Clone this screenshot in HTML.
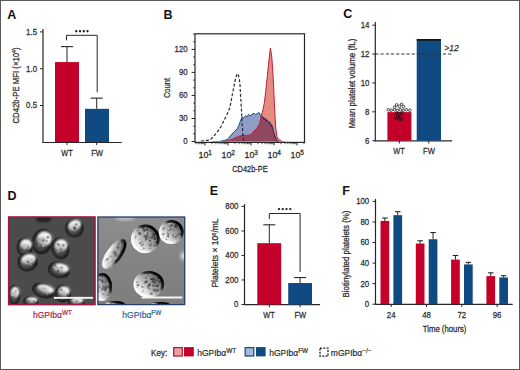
<!DOCTYPE html>
<html><head><meta charset="utf-8"><style>
html,body{margin:0;padding:0;background:#fff;}
body{width:520px;height:370px;overflow:hidden;}
svg{display:block;font-family:"Liberation Sans", sans-serif;}
</style></head><body>
<svg width="520" height="370" viewBox="0 0 520 370">
<rect x="0" y="0" width="520" height="370" fill="#fff"/>
<text x="7.2" y="18.9" font-size="12.5" text-anchor="start" fill="#111" font-weight="bold"  style="">A</text>
<text x="163.4" y="19" font-size="12.5" text-anchor="start" fill="#111" font-weight="bold"  style="">B</text>
<text x="343.2" y="17.5" font-size="12.5" text-anchor="start" fill="#111" font-weight="bold"  style="">C</text>
<text x="7.4" y="199.8" font-size="12.5" text-anchor="start" fill="#111" font-weight="bold"  style="">D</text>
<text x="209.8" y="194.8" font-size="12.5" text-anchor="start" fill="#111" font-weight="bold"  style="">E</text>
<text x="342.2" y="194.8" font-size="12.5" text-anchor="start" fill="#111" font-weight="bold"  style="">F</text>
<line x1="43.00" y1="29.00" x2="43.00" y2="142.80" stroke="#262626" stroke-width="1.2" />
<line x1="42.40" y1="142.50" x2="121.70" y2="142.50" stroke="#262626" stroke-width="1.2" />
<line x1="40.00" y1="31.90" x2="43.00" y2="31.90" stroke="#262626" stroke-width="1" />
<text x="37" y="34.80000000000002" font-size="8.9" text-anchor="end" fill="#2e2e2e" font-weight="normal" stroke="#2e2e2e" stroke-width="0.26" textLength="10.89" lengthAdjust="spacingAndGlyphs"  style="">1.5</text>
<line x1="40.00" y1="68.70" x2="43.00" y2="68.70" stroke="#262626" stroke-width="1" />
<text x="37" y="71.60000000000002" font-size="8.9" text-anchor="end" fill="#2e2e2e" font-weight="normal" stroke="#2e2e2e" stroke-width="0.26" textLength="10.89" lengthAdjust="spacingAndGlyphs"  style="">1.0</text>
<line x1="40.00" y1="105.50" x2="43.00" y2="105.50" stroke="#262626" stroke-width="1" />
<text x="37" y="108.40000000000002" font-size="8.9" text-anchor="end" fill="#2e2e2e" font-weight="normal" stroke="#2e2e2e" stroke-width="0.26" textLength="10.89" lengthAdjust="spacingAndGlyphs"  style="">0.5</text>
<rect x="55.00" y="62.08" width="24.00" height="79.92" fill="#c4002a" />
<rect x="85.00" y="108.81" width="24.00" height="33.19" fill="#0f4a82" />
<line x1="67.00" y1="46.62" x2="67.00" y2="62.08" stroke="#262626" stroke-width="1" />
<line x1="61.00" y1="46.62" x2="73.00" y2="46.62" stroke="#262626" stroke-width="1.1" />
<line x1="96.70" y1="98.14" x2="96.70" y2="108.81" stroke="#262626" stroke-width="1" />
<line x1="90.60" y1="98.14" x2="102.70" y2="98.14" stroke="#262626" stroke-width="1.1" />
<polyline points="66.5,40.4 66.5,35.3 97.2,35.3 97.2,92.3" fill="none" stroke="#262626" stroke-width="1"/>
<circle cx="76.25" cy="31.25" r="1.15" fill="#1a1a1a"/>
<circle cx="80" cy="31.25" r="1.15" fill="#1a1a1a"/>
<circle cx="83.75" cy="31.25" r="1.15" fill="#1a1a1a"/>
<circle cx="87.5" cy="31.25" r="1.15" fill="#1a1a1a"/>
<line x1="67.00" y1="142.50" x2="67.00" y2="145.00" stroke="#262626" stroke-width="1" />
<line x1="96.70" y1="142.50" x2="96.70" y2="145.00" stroke="#262626" stroke-width="1" />
<text x="67" y="156.2" font-size="8.7" text-anchor="middle" fill="#2e2e2e" font-weight="normal" stroke="#2e2e2e" stroke-width="0.26" textLength="11.4" lengthAdjust="spacingAndGlyphs"  style="">WT</text>
<text x="97.1" y="156.2" font-size="8.7" text-anchor="middle" fill="#2e2e2e" font-weight="normal" stroke="#2e2e2e" stroke-width="0.26" textLength="11.8" lengthAdjust="spacingAndGlyphs"  style="">FW</text>
<text transform="translate(19.2,85.5) rotate(-90)" font-size="9.2" text-anchor="middle" fill="#2e2e2e" stroke="#2e2e2e" stroke-width="0.26" textLength="76" lengthAdjust="spacingAndGlyphs">CD42b-PE MFI (×10<tspan dy="-2.8" font-size="6">4</tspan><tspan dy="2.8">)</tspan></text>
<line x1="191.60" y1="141.50" x2="195.00" y2="141.50" stroke="#262626" stroke-width="1" />
<text x="187.6" y="144.4" font-size="8.9" text-anchor="end" fill="#2e2e2e" font-weight="normal" stroke="#2e2e2e" stroke-width="0.26" textLength="4.35" lengthAdjust="spacingAndGlyphs"  style="">0</text>
<line x1="193.00" y1="133.82" x2="195.00" y2="133.82" stroke="#262626" stroke-width="0.8" />
<line x1="193.00" y1="126.15" x2="195.00" y2="126.15" stroke="#262626" stroke-width="0.8" />
<line x1="191.60" y1="118.47" x2="195.00" y2="118.47" stroke="#262626" stroke-width="1" />
<text x="187.6" y="121.375" font-size="8.9" text-anchor="end" fill="#2e2e2e" font-weight="normal" stroke="#2e2e2e" stroke-width="0.26" textLength="8.71" lengthAdjust="spacingAndGlyphs"  style="">30</text>
<line x1="193.00" y1="110.80" x2="195.00" y2="110.80" stroke="#262626" stroke-width="0.8" />
<line x1="193.00" y1="103.12" x2="195.00" y2="103.12" stroke="#262626" stroke-width="0.8" />
<line x1="191.60" y1="95.45" x2="195.00" y2="95.45" stroke="#262626" stroke-width="1" />
<text x="187.6" y="98.35000000000001" font-size="8.9" text-anchor="end" fill="#2e2e2e" font-weight="normal" stroke="#2e2e2e" stroke-width="0.26" textLength="8.71" lengthAdjust="spacingAndGlyphs"  style="">60</text>
<line x1="193.00" y1="87.78" x2="195.00" y2="87.78" stroke="#262626" stroke-width="0.8" />
<line x1="193.00" y1="80.10" x2="195.00" y2="80.10" stroke="#262626" stroke-width="0.8" />
<line x1="191.60" y1="72.42" x2="195.00" y2="72.42" stroke="#262626" stroke-width="1" />
<text x="187.6" y="75.325" font-size="8.9" text-anchor="end" fill="#2e2e2e" font-weight="normal" stroke="#2e2e2e" stroke-width="0.26" textLength="8.71" lengthAdjust="spacingAndGlyphs"  style="">90</text>
<line x1="193.00" y1="64.75" x2="195.00" y2="64.75" stroke="#262626" stroke-width="0.8" />
<line x1="193.00" y1="57.08" x2="195.00" y2="57.08" stroke="#262626" stroke-width="0.8" />
<line x1="191.60" y1="49.40" x2="195.00" y2="49.40" stroke="#262626" stroke-width="1" />
<text x="187.6" y="52.300000000000004" font-size="8.9" text-anchor="end" fill="#2e2e2e" font-weight="normal" stroke="#2e2e2e" stroke-width="0.26" textLength="13.06" lengthAdjust="spacingAndGlyphs"  style="">120</text>
<line x1="193.00" y1="41.73" x2="195.00" y2="41.73" stroke="#262626" stroke-width="0.8" />
<line x1="193.00" y1="34.05" x2="195.00" y2="34.05" stroke="#262626" stroke-width="0.8" />
<line x1="195.85" y1="142.40" x2="195.85" y2="144.20" stroke="#262626" stroke-width="0.8" />
<line x1="198.08" y1="142.40" x2="198.08" y2="144.20" stroke="#262626" stroke-width="0.8" />
<line x1="199.90" y1="142.40" x2="199.90" y2="144.20" stroke="#262626" stroke-width="0.8" />
<line x1="201.44" y1="142.40" x2="201.44" y2="144.20" stroke="#262626" stroke-width="0.8" />
<line x1="202.77" y1="142.40" x2="202.77" y2="144.20" stroke="#262626" stroke-width="0.8" />
<line x1="203.95" y1="142.40" x2="203.95" y2="144.20" stroke="#262626" stroke-width="0.8" />
<line x1="205.00" y1="142.40" x2="205.00" y2="145.40" stroke="#262626" stroke-width="1" />
<line x1="211.92" y1="142.40" x2="211.92" y2="144.20" stroke="#262626" stroke-width="0.8" />
<line x1="215.97" y1="142.40" x2="215.97" y2="144.20" stroke="#262626" stroke-width="0.8" />
<line x1="218.85" y1="142.40" x2="218.85" y2="144.20" stroke="#262626" stroke-width="0.8" />
<line x1="221.08" y1="142.40" x2="221.08" y2="144.20" stroke="#262626" stroke-width="0.8" />
<line x1="222.90" y1="142.40" x2="222.90" y2="144.20" stroke="#262626" stroke-width="0.8" />
<line x1="224.44" y1="142.40" x2="224.44" y2="144.20" stroke="#262626" stroke-width="0.8" />
<line x1="225.77" y1="142.40" x2="225.77" y2="144.20" stroke="#262626" stroke-width="0.8" />
<line x1="226.95" y1="142.40" x2="226.95" y2="144.20" stroke="#262626" stroke-width="0.8" />
<line x1="228.00" y1="142.40" x2="228.00" y2="145.40" stroke="#262626" stroke-width="1" />
<line x1="234.92" y1="142.40" x2="234.92" y2="144.20" stroke="#262626" stroke-width="0.8" />
<line x1="238.97" y1="142.40" x2="238.97" y2="144.20" stroke="#262626" stroke-width="0.8" />
<line x1="241.85" y1="142.40" x2="241.85" y2="144.20" stroke="#262626" stroke-width="0.8" />
<line x1="244.08" y1="142.40" x2="244.08" y2="144.20" stroke="#262626" stroke-width="0.8" />
<line x1="245.90" y1="142.40" x2="245.90" y2="144.20" stroke="#262626" stroke-width="0.8" />
<line x1="247.44" y1="142.40" x2="247.44" y2="144.20" stroke="#262626" stroke-width="0.8" />
<line x1="248.77" y1="142.40" x2="248.77" y2="144.20" stroke="#262626" stroke-width="0.8" />
<line x1="249.95" y1="142.40" x2="249.95" y2="144.20" stroke="#262626" stroke-width="0.8" />
<line x1="251.00" y1="142.40" x2="251.00" y2="145.40" stroke="#262626" stroke-width="1" />
<line x1="257.92" y1="142.40" x2="257.92" y2="144.20" stroke="#262626" stroke-width="0.8" />
<line x1="261.97" y1="142.40" x2="261.97" y2="144.20" stroke="#262626" stroke-width="0.8" />
<line x1="264.85" y1="142.40" x2="264.85" y2="144.20" stroke="#262626" stroke-width="0.8" />
<line x1="267.08" y1="142.40" x2="267.08" y2="144.20" stroke="#262626" stroke-width="0.8" />
<line x1="268.90" y1="142.40" x2="268.90" y2="144.20" stroke="#262626" stroke-width="0.8" />
<line x1="270.44" y1="142.40" x2="270.44" y2="144.20" stroke="#262626" stroke-width="0.8" />
<line x1="271.77" y1="142.40" x2="271.77" y2="144.20" stroke="#262626" stroke-width="0.8" />
<line x1="272.95" y1="142.40" x2="272.95" y2="144.20" stroke="#262626" stroke-width="0.8" />
<line x1="274.00" y1="142.40" x2="274.00" y2="145.40" stroke="#262626" stroke-width="1" />
<line x1="280.92" y1="142.40" x2="280.92" y2="144.20" stroke="#262626" stroke-width="0.8" />
<line x1="284.97" y1="142.40" x2="284.97" y2="144.20" stroke="#262626" stroke-width="0.8" />
<line x1="287.85" y1="142.40" x2="287.85" y2="144.20" stroke="#262626" stroke-width="0.8" />
<line x1="290.08" y1="142.40" x2="290.08" y2="144.20" stroke="#262626" stroke-width="0.8" />
<line x1="291.90" y1="142.40" x2="291.90" y2="144.20" stroke="#262626" stroke-width="0.8" />
<line x1="293.44" y1="142.40" x2="293.44" y2="144.20" stroke="#262626" stroke-width="0.8" />
<line x1="294.77" y1="142.40" x2="294.77" y2="144.20" stroke="#262626" stroke-width="0.8" />
<line x1="295.95" y1="142.40" x2="295.95" y2="144.20" stroke="#262626" stroke-width="0.8" />
<line x1="297.00" y1="142.40" x2="297.00" y2="145.40" stroke="#262626" stroke-width="1" />
<line x1="303.92" y1="142.40" x2="303.92" y2="144.20" stroke="#262626" stroke-width="0.8" />
<text x="205.2" y="158" font-size="8.9" text-anchor="middle" fill="#2e2e2e" stroke="#2e2e2e" stroke-width="0.26">10<tspan dy="-3.4" font-size="6.4">1</tspan></text>
<text x="228.2" y="158" font-size="8.9" text-anchor="middle" fill="#2e2e2e" stroke="#2e2e2e" stroke-width="0.26">10<tspan dy="-3.4" font-size="6.4">2</tspan></text>
<text x="251.2" y="158" font-size="8.9" text-anchor="middle" fill="#2e2e2e" stroke="#2e2e2e" stroke-width="0.26">10<tspan dy="-3.4" font-size="6.4">3</tspan></text>
<text x="274.2" y="158" font-size="8.9" text-anchor="middle" fill="#2e2e2e" stroke="#2e2e2e" stroke-width="0.26">10<tspan dy="-3.4" font-size="6.4">4</tspan></text>
<text x="297.2" y="158" font-size="8.9" text-anchor="middle" fill="#2e2e2e" stroke="#2e2e2e" stroke-width="0.26">10<tspan dy="-3.4" font-size="6.4">5</tspan></text>
<text x="250" y="171.7" font-size="9.2" text-anchor="middle" fill="#2e2e2e" font-weight="normal" stroke="#2e2e2e" stroke-width="0.26" textLength="35.5" lengthAdjust="spacingAndGlyphs"  style="">CD42b-PE</text>
<text transform="translate(169.5,88) rotate(-90)" font-size="9.6" text-anchor="middle" fill="#2e2e2e" stroke="#2e2e2e" stroke-width="0.26" textLength="20.2" lengthAdjust="spacingAndGlyphs">Count</text>
<defs><clipPath id="bclip"><polygon points="212.0,141.8 219.9,141.4 224.2,140.4 227.4,139.4 229.5,137.0 231.8,134.2 234.5,131.5 237.2,128.8 238.8,125.5 240.4,121.2 242.1,116.9 243.6,118.0 245.0,116.3 245.8,115.8 247.0,116.9 248.5,114.4 250.0,115.6 251.4,115.3 252.5,113.8 254.2,113.3 255.6,114.5 257.0,113.9 259.0,112.4 260.5,115.3 262.7,116.7 264.0,119.2 265.0,118.1 266.2,121.2 267.0,119.8 268.4,122.8 269.6,122.0 270.7,125.6 271.6,124.8 272.7,128.6 273.5,131.5 274.1,133.8 275.5,138.0 276.9,140.9 279.0,141.8"/></clipPath><clipPath id="rclip"><polygon points="222.0,141.8 226.4,141.1 229.0,140.3 231.8,139.4 234.0,138.4 236.1,137.4 238.5,136.4 240.4,135.9 242.5,135.4 244.7,135.2 246.5,135.5 248.5,135.2 250.5,134.6 252.8,132.3 255.0,130.3 257.0,128.1 258.6,125.5 259.9,122.4 261.3,115.3 262.7,111.0 264.4,102.5 266.1,88.3 267.8,71.2 269.3,57.0 270.4,48.0 271.8,57.0 273.0,74.1 274.1,96.8 274.9,113.9 275.8,128.1 276.9,136.6 279.2,140.0 282.6,141.7 285.0,141.9"/></clipPath><clipPath id="boxclip"><rect x="195.5" y="34" width="108.5" height="107.6"/></clipPath></defs>
<g clip-path="url(#boxclip)">
<polygon points="212.0,141.8 219.9,141.4 224.2,140.4 227.4,139.4 229.5,137.0 231.8,134.2 234.5,131.5 237.2,128.8 238.8,125.5 240.4,121.2 242.1,116.9 243.6,118.0 245.0,116.3 245.8,115.8 247.0,116.9 248.5,114.4 250.0,115.6 251.4,115.3 252.5,113.8 254.2,113.3 255.6,114.5 257.0,113.9 259.0,112.4 260.5,115.3 262.7,116.7 264.0,119.2 265.0,118.1 266.2,121.2 267.0,119.8 268.4,122.8 269.6,122.0 270.7,125.6 271.6,124.8 272.7,128.6 273.5,131.5 274.1,133.8 275.5,138.0 276.9,140.9 279.0,141.8" fill="#8e9cc6" stroke="none"/>
<polygon points="222.0,141.8 226.4,141.1 229.0,140.3 231.8,139.4 234.0,138.4 236.1,137.4 238.5,136.4 240.4,135.9 242.5,135.4 244.7,135.2 246.5,135.5 248.5,135.2 250.5,134.6 252.8,132.3 255.0,130.3 257.0,128.1 258.6,125.5 259.9,122.4 261.3,115.3 262.7,111.0 264.4,102.5 266.1,88.3 267.8,71.2 269.3,57.0 270.4,48.0 271.8,57.0 273.0,74.1 274.1,96.8 274.9,113.9 275.8,128.1 276.9,136.6 279.2,140.0 282.6,141.7 285.0,141.9" fill="#e38c80" stroke="none"/>
<polygon points="222.0,141.8 226.4,141.1 229.0,140.3 231.8,139.4 234.0,138.4 236.1,137.4 238.5,136.4 240.4,135.9 242.5,135.4 244.7,135.2 246.5,135.5 248.5,135.2 250.5,134.6 252.8,132.3 255.0,130.3 257.0,128.1 258.6,125.5 259.9,122.4 261.3,115.3 262.7,111.0 264.4,102.5 266.1,88.3 267.8,71.2 269.3,57.0 270.4,48.0 271.8,57.0 273.0,74.1 274.1,96.8 274.9,113.9 275.8,128.1 276.9,136.6 279.2,140.0 282.6,141.7 285.0,141.9" fill="#934862" stroke="none" clip-path="url(#bclip)"/>
<polyline points="212.0,141.8 219.9,141.4 224.2,140.4 227.4,139.4 229.5,137.0 231.8,134.2 234.5,131.5 237.2,128.8 238.8,125.5 240.4,121.2 242.1,116.9 243.6,118.0 245.0,116.3 245.8,115.8 247.0,116.9 248.5,114.4 250.0,115.6 251.4,115.3 252.5,113.8 254.2,113.3 255.6,114.5 257.0,113.9 259.0,112.4 260.5,115.3 262.7,116.7 264.0,119.2 265.0,118.1 266.2,121.2 267.0,119.8 268.4,122.8 269.6,122.0 270.7,125.6 271.6,124.8 272.7,128.6 273.5,131.5 274.1,133.8 275.5,138.0 276.9,140.9 279.0,141.8" fill="none" stroke="#1d4f8c" stroke-width="1"/>
<polyline points="212.0,141.8 219.9,141.4 224.2,140.4 227.4,139.4 229.5,137.0 231.8,134.2 234.5,131.5 237.2,128.8 238.8,125.5 240.4,121.2 242.1,116.9 243.6,118.0 245.0,116.3 245.8,115.8 247.0,116.9 248.5,114.4 250.0,115.6 251.4,115.3 252.5,113.8 254.2,113.3 255.6,114.5 257.0,113.9 259.0,112.4 260.5,115.3 262.7,116.7 264.0,119.2 265.0,118.1 266.2,121.2 267.0,119.8 268.4,122.8 269.6,122.0 270.7,125.6 271.6,124.8 272.7,128.6 273.5,131.5 274.1,133.8 275.5,138.0 276.9,140.9 279.0,141.8" fill="none" stroke="#3a2a4a" stroke-width="1" clip-path="url(#rclip)"/>
<polyline points="222.0,141.8 226.4,141.1 229.0,140.3 231.8,139.4 234.0,138.4 236.1,137.4 238.5,136.4 240.4,135.9 242.5,135.4 244.7,135.2 246.5,135.5 248.5,135.2 250.5,134.6 252.8,132.3 255.0,130.3 257.0,128.1 258.6,125.5 259.9,122.4 261.3,115.3 262.7,111.0 264.4,102.5 266.1,88.3 267.8,71.2 269.3,57.0 270.4,48.0 271.8,57.0 273.0,74.1 274.1,96.8 274.9,113.9 275.8,128.1 276.9,136.6 279.2,140.0 282.6,141.7 285.0,141.9" fill="none" stroke="#c0203a" stroke-width="1"/>
<polyline points="201.0,141.2 205.0,140.8 208.0,140.2 211.0,139.0 213.4,136.6 216.0,133.5 218.8,129.9 221.0,126.5 223.1,122.3 225.5,117.5 227.4,113.6 229.6,108.2 230.8,103.0 231.8,97.4 233.0,91.0 233.9,86.6 235.0,81.0 236.1,76.9 237.2,73.6 238.3,75.0 239.3,78.5 240.0,85.0 240.4,93.1 241.0,102.0 241.5,110.4 242.1,123.4 243.0,136.4 243.6,140.7 244.2,141.6" fill="none" stroke="#2a2a2a" stroke-width="1.2" stroke-dasharray="3,1.9"/>
</g>
<rect x="195" y="33.8" width="109.5" height="108.60000000000001" fill="none" stroke="#262626" stroke-width="1.2"/>
<line x1="375.30" y1="22.00" x2="375.30" y2="141.20" stroke="#262626" stroke-width="1.2" />
<line x1="374.70" y1="140.80" x2="452.00" y2="140.80" stroke="#262626" stroke-width="1.2" />
<line x1="372.30" y1="25.18" x2="375.30" y2="25.18" stroke="#262626" stroke-width="1" />
<text x="369.4" y="28.07999999999999" font-size="8.9" text-anchor="end" fill="#2e2e2e" font-weight="normal" stroke="#2e2e2e" stroke-width="0.26" textLength="8.71" lengthAdjust="spacingAndGlyphs"  style="">14</text>
<line x1="372.30" y1="54.06" x2="375.30" y2="54.06" stroke="#262626" stroke-width="1" />
<text x="369.4" y="56.95999999999999" font-size="8.9" text-anchor="end" fill="#2e2e2e" font-weight="normal" stroke="#2e2e2e" stroke-width="0.26" textLength="8.71" lengthAdjust="spacingAndGlyphs"  style="">12</text>
<line x1="372.30" y1="82.94" x2="375.30" y2="82.94" stroke="#262626" stroke-width="1" />
<text x="369.4" y="85.84" font-size="8.9" text-anchor="end" fill="#2e2e2e" font-weight="normal" stroke="#2e2e2e" stroke-width="0.26" textLength="8.71" lengthAdjust="spacingAndGlyphs"  style="">10</text>
<line x1="372.30" y1="111.82" x2="375.30" y2="111.82" stroke="#262626" stroke-width="1" />
<text x="369.4" y="114.72" font-size="8.9" text-anchor="end" fill="#2e2e2e" font-weight="normal" stroke="#2e2e2e" stroke-width="0.26" textLength="4.35" lengthAdjust="spacingAndGlyphs"  style="">8</text>
<line x1="372.30" y1="140.70" x2="375.30" y2="140.70" stroke="#262626" stroke-width="1" />
<text x="369.4" y="143.6" font-size="8.9" text-anchor="end" fill="#2e2e2e" font-weight="normal" stroke="#2e2e2e" stroke-width="0.26" textLength="4.35" lengthAdjust="spacingAndGlyphs"  style="">6</text>
<rect x="387.40" y="112.11" width="24.00" height="28.59" fill="#c4002a" />
<rect x="416.70" y="39.62" width="24.30" height="101.08" fill="#0f4a82" />
<rect x="416.70" y="39.02" width="24.30" height="1.70" fill="#111" />
<line x1="375.30" y1="54.00" x2="452.00" y2="54.00" stroke="#333" stroke-width="1.1" stroke-dasharray="3.2,2"/>
<text x="444.2" y="51.4" font-size="8.7" text-anchor="start" fill="#333" font-weight="normal" stroke="#333" stroke-width="0.26" textLength="14.5" lengthAdjust="spacingAndGlyphs"  style="font-style:italic">&gt;12</text>
<circle cx="388.3" cy="109.8" r="1.3" fill="#fff" stroke="#111" stroke-width="0.75"/>
<circle cx="391.2" cy="110.2" r="1.3" fill="#fff" stroke="#111" stroke-width="0.75"/>
<circle cx="394.5" cy="109.8" r="1.3" fill="#fff" stroke="#111" stroke-width="0.75"/>
<circle cx="397.4" cy="110.2" r="1.3" fill="#fff" stroke="#111" stroke-width="0.75"/>
<circle cx="400.3" cy="109.8" r="1.3" fill="#fff" stroke="#111" stroke-width="0.75"/>
<circle cx="403.2" cy="110.2" r="1.3" fill="#fff" stroke="#111" stroke-width="0.75"/>
<circle cx="406.5" cy="109.8" r="1.3" fill="#fff" stroke="#111" stroke-width="0.75"/>
<circle cx="409.8" cy="110.3" r="1.3" fill="#fff" stroke="#111" stroke-width="0.75"/>
<circle cx="394.6" cy="107.2" r="1.3" fill="#fff" stroke="#111" stroke-width="0.75"/>
<circle cx="396.6" cy="104.9" r="1.3" fill="#fff" stroke="#111" stroke-width="0.75"/>
<circle cx="399.5" cy="106.4" r="1.3" fill="#fff" stroke="#111" stroke-width="0.75"/>
<circle cx="401.6" cy="104.2" r="1.3" fill="#fff" stroke="#111" stroke-width="0.75"/>
<circle cx="403.6" cy="106.6" r="1.3" fill="#fff" stroke="#111" stroke-width="0.75"/>
<circle cx="396.5" cy="113" r="1.3" fill="none" stroke="#111" stroke-width="0.75"/>
<circle cx="399.2" cy="113.6" r="1.3" fill="none" stroke="#111" stroke-width="0.75"/>
<circle cx="401.8" cy="113" r="1.3" fill="none" stroke="#111" stroke-width="0.75"/>
<circle cx="397.6" cy="116" r="1.3" fill="none" stroke="#111" stroke-width="0.75"/>
<circle cx="400.6" cy="116.4" r="1.3" fill="none" stroke="#111" stroke-width="0.75"/>
<circle cx="398.6" cy="119" r="1.3" fill="none" stroke="#111" stroke-width="0.75"/>
<circle cx="401.6" cy="119.4" r="1.3" fill="none" stroke="#111" stroke-width="0.75"/>
<circle cx="395.8" cy="118.2" r="1.3" fill="none" stroke="#111" stroke-width="0.75"/>
<line x1="399.40" y1="140.80" x2="399.40" y2="143.50" stroke="#262626" stroke-width="1" />
<line x1="428.80" y1="140.80" x2="428.80" y2="143.50" stroke="#262626" stroke-width="1" />
<text x="399" y="154" font-size="8.7" text-anchor="middle" fill="#2e2e2e" font-weight="normal" stroke="#2e2e2e" stroke-width="0.26" textLength="11.4" lengthAdjust="spacingAndGlyphs"  style="">WT</text>
<text x="428.9" y="154" font-size="8.7" text-anchor="middle" fill="#2e2e2e" font-weight="normal" stroke="#2e2e2e" stroke-width="0.26" textLength="11.8" lengthAdjust="spacingAndGlyphs"  style="">FW</text>
<text transform="translate(355.2,83.6) rotate(-90)" font-size="9.2" text-anchor="middle" fill="#2e2e2e" stroke="#2e2e2e" stroke-width="0.26" textLength="90" lengthAdjust="spacingAndGlyphs">Mean platelet volume (fL)</text>
<line x1="244.50" y1="204.00" x2="244.50" y2="305.00" stroke="#262626" stroke-width="1.2" />
<line x1="243.90" y1="304.70" x2="320.00" y2="304.70" stroke="#262626" stroke-width="1.2" />
<line x1="241.50" y1="206.40" x2="244.50" y2="206.40" stroke="#262626" stroke-width="1" />
<text x="238.4" y="209.3" font-size="8.9" text-anchor="end" fill="#2e2e2e" font-weight="normal" stroke="#2e2e2e" stroke-width="0.26" textLength="13.06" lengthAdjust="spacingAndGlyphs"  style="">800</text>
<line x1="241.50" y1="230.93" x2="244.50" y2="230.93" stroke="#262626" stroke-width="1" />
<text x="238.4" y="233.82500000000002" font-size="8.9" text-anchor="end" fill="#2e2e2e" font-weight="normal" stroke="#2e2e2e" stroke-width="0.26" textLength="13.06" lengthAdjust="spacingAndGlyphs"  style="">600</text>
<line x1="241.50" y1="255.45" x2="244.50" y2="255.45" stroke="#262626" stroke-width="1" />
<text x="238.4" y="258.34999999999997" font-size="8.9" text-anchor="end" fill="#2e2e2e" font-weight="normal" stroke="#2e2e2e" stroke-width="0.26" textLength="13.06" lengthAdjust="spacingAndGlyphs"  style="">400</text>
<line x1="241.50" y1="279.98" x2="244.50" y2="279.98" stroke="#262626" stroke-width="1" />
<text x="238.4" y="282.875" font-size="8.9" text-anchor="end" fill="#2e2e2e" font-weight="normal" stroke="#2e2e2e" stroke-width="0.26" textLength="13.06" lengthAdjust="spacingAndGlyphs"  style="">200</text>
<line x1="241.50" y1="304.50" x2="244.50" y2="304.50" stroke="#262626" stroke-width="1" />
<text x="238.4" y="307.4" font-size="8.9" text-anchor="end" fill="#2e2e2e" font-weight="normal" stroke="#2e2e2e" stroke-width="0.26" textLength="4.35" lengthAdjust="spacingAndGlyphs"  style="">0</text>
<rect x="257.30" y="243.19" width="23.90" height="61.31" fill="#c4002a" />
<rect x="288.20" y="283.04" width="23.80" height="21.46" fill="#0f4a82" />
<line x1="269.30" y1="224.79" x2="269.30" y2="243.19" stroke="#262626" stroke-width="1" />
<line x1="263.30" y1="224.79" x2="275.30" y2="224.79" stroke="#262626" stroke-width="1.1" />
<line x1="300.10" y1="277.52" x2="300.10" y2="283.04" stroke="#262626" stroke-width="1" />
<line x1="294.10" y1="277.52" x2="306.10" y2="277.52" stroke="#262626" stroke-width="1.1" />
<polyline points="269.3,219 269.3,213.5 300.1,213.5 300.1,272" fill="none" stroke="#262626" stroke-width="1"/>
<circle cx="279" cy="209.1" r="1.15" fill="#1a1a1a"/>
<circle cx="282.75" cy="209.1" r="1.15" fill="#1a1a1a"/>
<circle cx="286.5" cy="209.1" r="1.15" fill="#1a1a1a"/>
<circle cx="290.25" cy="209.1" r="1.15" fill="#1a1a1a"/>
<line x1="269.30" y1="304.70" x2="269.30" y2="307.30" stroke="#262626" stroke-width="1" />
<line x1="300.10" y1="304.70" x2="300.10" y2="307.30" stroke="#262626" stroke-width="1" />
<text x="269" y="318.2" font-size="8.7" text-anchor="middle" fill="#2e2e2e" font-weight="normal" stroke="#2e2e2e" stroke-width="0.26" textLength="11.4" lengthAdjust="spacingAndGlyphs"  style="">WT</text>
<text x="300.3" y="318.2" font-size="8.7" text-anchor="middle" fill="#2e2e2e" font-weight="normal" stroke="#2e2e2e" stroke-width="0.26" textLength="11.8" lengthAdjust="spacingAndGlyphs"  style="">FW</text>
<text transform="translate(218.4,253) rotate(-90)" font-size="9.2" text-anchor="middle" fill="#2e2e2e" stroke="#2e2e2e" stroke-width="0.26" textLength="69.2" lengthAdjust="spacingAndGlyphs">Platelets × 10<tspan dy="-2.8" font-size="6">6</tspan><tspan dy="2.8">/mL</tspan></text>
<line x1="375.50" y1="199.00" x2="375.50" y2="304.70" stroke="#262626" stroke-width="1.2" />
<line x1="374.90" y1="304.40" x2="512.70" y2="304.40" stroke="#262626" stroke-width="1.2" />
<line x1="372.50" y1="201.40" x2="375.50" y2="201.40" stroke="#262626" stroke-width="1" />
<text x="369.2" y="204.29999999999998" font-size="8.9" text-anchor="end" fill="#2e2e2e" font-weight="normal" stroke="#2e2e2e" stroke-width="0.26" textLength="13.06" lengthAdjust="spacingAndGlyphs"  style="">100</text>
<line x1="372.50" y1="221.96" x2="375.50" y2="221.96" stroke="#262626" stroke-width="1" />
<text x="369.2" y="224.85999999999999" font-size="8.9" text-anchor="end" fill="#2e2e2e" font-weight="normal" stroke="#2e2e2e" stroke-width="0.26" textLength="8.71" lengthAdjust="spacingAndGlyphs"  style="">80</text>
<line x1="372.50" y1="242.52" x2="375.50" y2="242.52" stroke="#262626" stroke-width="1" />
<text x="369.2" y="245.42" font-size="8.9" text-anchor="end" fill="#2e2e2e" font-weight="normal" stroke="#2e2e2e" stroke-width="0.26" textLength="8.71" lengthAdjust="spacingAndGlyphs"  style="">60</text>
<line x1="372.50" y1="263.08" x2="375.50" y2="263.08" stroke="#262626" stroke-width="1" />
<text x="369.2" y="265.97999999999996" font-size="8.9" text-anchor="end" fill="#2e2e2e" font-weight="normal" stroke="#2e2e2e" stroke-width="0.26" textLength="8.71" lengthAdjust="spacingAndGlyphs"  style="">40</text>
<line x1="372.50" y1="283.64" x2="375.50" y2="283.64" stroke="#262626" stroke-width="1" />
<text x="369.2" y="286.53999999999996" font-size="8.9" text-anchor="end" fill="#2e2e2e" font-weight="normal" stroke="#2e2e2e" stroke-width="0.26" textLength="8.71" lengthAdjust="spacingAndGlyphs"  style="">20</text>
<line x1="372.50" y1="304.20" x2="375.50" y2="304.20" stroke="#262626" stroke-width="1" />
<text x="369.2" y="307.09999999999997" font-size="8.9" text-anchor="end" fill="#2e2e2e" font-weight="normal" stroke="#2e2e2e" stroke-width="0.26" textLength="4.35" lengthAdjust="spacingAndGlyphs"  style="">0</text>
<rect x="380.50" y="220.93" width="8.70" height="83.27" fill="#c4002a" />
<line x1="384.85" y1="218.05" x2="384.85" y2="220.93" stroke="#262626" stroke-width="1" />
<line x1="382.10" y1="218.05" x2="387.60" y2="218.05" stroke="#262626" stroke-width="1.1" />
<rect x="393.40" y="215.18" width="8.70" height="89.02" fill="#0f4a82" />
<line x1="397.75" y1="211.68" x2="397.75" y2="215.18" stroke="#262626" stroke-width="1" />
<line x1="395.00" y1="211.68" x2="400.50" y2="211.68" stroke="#262626" stroke-width="1.1" />
<line x1="391.20" y1="304.40" x2="391.20" y2="307.00" stroke="#262626" stroke-width="1" />
<rect x="415.80" y="243.55" width="8.70" height="60.65" fill="#c4002a" />
<line x1="420.15" y1="240.77" x2="420.15" y2="243.55" stroke="#262626" stroke-width="1" />
<line x1="417.40" y1="240.77" x2="422.90" y2="240.77" stroke="#262626" stroke-width="1.1" />
<rect x="428.70" y="239.23" width="8.70" height="64.97" fill="#0f4a82" />
<line x1="433.05" y1="232.55" x2="433.05" y2="239.23" stroke="#262626" stroke-width="1" />
<line x1="430.30" y1="232.55" x2="435.80" y2="232.55" stroke="#262626" stroke-width="1.1" />
<line x1="426.50" y1="304.40" x2="426.50" y2="307.00" stroke="#262626" stroke-width="1" />
<rect x="451.10" y="259.58" width="8.70" height="44.62" fill="#c4002a" />
<line x1="455.45" y1="255.47" x2="455.45" y2="259.58" stroke="#262626" stroke-width="1" />
<line x1="452.70" y1="255.47" x2="458.20" y2="255.47" stroke="#262626" stroke-width="1.1" />
<rect x="464.00" y="264.42" width="8.70" height="39.78" fill="#0f4a82" />
<line x1="468.35" y1="262.36" x2="468.35" y2="264.42" stroke="#262626" stroke-width="1" />
<line x1="465.60" y1="262.36" x2="471.10" y2="262.36" stroke="#262626" stroke-width="1.1" />
<line x1="461.80" y1="304.40" x2="461.80" y2="307.00" stroke="#262626" stroke-width="1" />
<rect x="486.40" y="276.14" width="8.70" height="28.06" fill="#c4002a" />
<line x1="490.75" y1="272.85" x2="490.75" y2="276.14" stroke="#262626" stroke-width="1" />
<line x1="488.00" y1="272.85" x2="493.50" y2="272.85" stroke="#262626" stroke-width="1.1" />
<rect x="499.30" y="277.47" width="8.70" height="26.73" fill="#0f4a82" />
<line x1="503.65" y1="275.72" x2="503.65" y2="277.47" stroke="#262626" stroke-width="1" />
<line x1="500.90" y1="275.72" x2="506.40" y2="275.72" stroke="#262626" stroke-width="1.1" />
<line x1="497.10" y1="304.40" x2="497.10" y2="307.00" stroke="#262626" stroke-width="1" />
<text x="391.2" y="318.4" font-size="8.9" text-anchor="middle" fill="#2e2e2e" font-weight="normal" stroke="#2e2e2e" stroke-width="0.26" textLength="8.71" lengthAdjust="spacingAndGlyphs"  style="">24</text>
<text x="426.5" y="318.4" font-size="8.9" text-anchor="middle" fill="#2e2e2e" font-weight="normal" stroke="#2e2e2e" stroke-width="0.26" textLength="8.71" lengthAdjust="spacingAndGlyphs"  style="">48</text>
<text x="461.8" y="318.4" font-size="8.9" text-anchor="middle" fill="#2e2e2e" font-weight="normal" stroke="#2e2e2e" stroke-width="0.26" textLength="8.71" lengthAdjust="spacingAndGlyphs"  style="">72</text>
<text x="497.1" y="318.4" font-size="8.9" text-anchor="middle" fill="#2e2e2e" font-weight="normal" stroke="#2e2e2e" stroke-width="0.26" textLength="8.71" lengthAdjust="spacingAndGlyphs"  style="">96</text>
<text x="444.6" y="332" font-size="9.2" text-anchor="middle" fill="#2e2e2e" font-weight="normal" stroke="#2e2e2e" stroke-width="0.26" textLength="43.7" lengthAdjust="spacingAndGlyphs"  style="">Time (hours)</text>
<text transform="translate(349.4,254) rotate(-90)" font-size="9.2" text-anchor="middle" fill="#2e2e2e" stroke="#2e2e2e" stroke-width="0.26" textLength="87" lengthAdjust="spacingAndGlyphs">Biotinylated platelets (%)</text>
<text x="151" y="355.9" font-size="8.5" text-anchor="start" fill="#2e2e2e" font-weight="normal" stroke="#2e2e2e" stroke-width="0.26" textLength="16.2" lengthAdjust="spacingAndGlyphs"  style="">Key:</text>
<rect x="173.70" y="347.60" width="8.60" height="8.40" fill="#e8a0a0" stroke="#b0203a" stroke-width="1.3"/>
<rect x="184.00" y="347.10" width="9.80" height="9.30" fill="#c4002a" />
<text x="197.2" y="356.3" font-size="8.5" fill="#2e2e2e" stroke="#2e2e2e" stroke-width="0.2">hGPIbα<tspan dy="-3.4" font-size="6.4">WT</tspan></text>
<rect x="245.20" y="347.60" width="8.60" height="8.40" fill="#a8b8d8" stroke="#1f4f8a" stroke-width="1.3"/>
<rect x="256.00" y="347.10" width="9.60" height="9.30" fill="#0f4a82" />
<text x="269.2" y="356.3" font-size="8.5" fill="#2e2e2e" stroke="#2e2e2e" stroke-width="0.2">hGPIbα<tspan dy="-3.4" font-size="6.4">FW</tspan></text>
<rect x="320.00" y="348.20" width="8.00" height="8.00" fill="none" stroke="#1a1a1a" stroke-width="1.3" stroke-dasharray="2,1.3"/>
<text x="330.8" y="356.3" font-size="8.5" fill="#2e2e2e" stroke="#2e2e2e" stroke-width="0.2">mGPIbα<tspan dy="-3.4" font-size="6.4">−/−</tspan></text>
<defs><linearGradient id="gWT" x1="0.15" y1="1" x2="0.85" y2="0"><stop offset="0" stop-color="#202020"/><stop offset="0.25" stop-color="#505050"/><stop offset="0.45" stop-color="#a0a0a0"/><stop offset="0.65" stop-color="#dedede"/><stop offset="1" stop-color="#fafafa"/></linearGradient><linearGradient id="gFW" x1="0.05" y1="0.85" x2="0.95" y2="0.15"><stop offset="0" stop-color="#fbfbfb"/><stop offset="0.25" stop-color="#e8e8e8"/><stop offset="0.45" stop-color="#b2b2b2"/><stop offset="0.7" stop-color="#8a8a8a"/><stop offset="0.88" stop-color="#484848"/><stop offset="1" stop-color="#202020"/></linearGradient><linearGradient id="rimFW" x1="0.1" y1="0.9" x2="0.9" y2="0.1"><stop offset="0" stop-color="#fff" stop-opacity="1"/><stop offset="0.4" stop-color="#fff" stop-opacity="0"/><stop offset="0.7" stop-color="#111" stop-opacity="0.8"/><stop offset="1" stop-color="#000" stop-opacity="1"/></linearGradient><linearGradient id="bgR" x1="0" y1="0" x2="0" y2="1"><stop offset="0" stop-color="#8e8e8e"/><stop offset="0.5" stop-color="#838383"/><stop offset="1" stop-color="#7e7e7e"/></linearGradient><radialGradient id="glow"><stop offset="0" stop-color="#e8e8e8"/><stop offset="1" stop-color="#808080" stop-opacity="0"/></radialGradient><filter id="bl1" x="-30%" y="-30%" width="160%" height="160%"><feGaussianBlur stdDeviation="0.9"/></filter><filter id="bl05" x="-30%" y="-30%" width="160%" height="160%"><feGaussianBlur stdDeviation="0.45"/></filter><clipPath id="dl"><rect x="8.5" y="217" width="86.5" height="87.5"/></clipPath><clipPath id="dr"><rect x="97.7" y="217" width="87" height="87.5"/></clipPath></defs>
<g clip-path="url(#dl)">
<rect x="8" y="216" width="88" height="89" fill="#4b4b4b"/>
<ellipse cx="43.5" cy="218" rx="8" ry="4.5" fill="#222" filter="url(#bl1)"/>
<g transform="rotate(-25 74.5 227.5)"><ellipse cx="74.2" cy="227.9" rx="9.3" ry="9.4" fill="#1c1c1c" filter="url(#bl05)"/><ellipse cx="73.65" cy="228.79" rx="6.80" ry="6.19" fill="#4a4a4a" filter="url(#bl1)"/><ellipse cx="75.69" cy="225.18" rx="6.63" ry="4.99" fill="#f4f4f4" filter="url(#bl1)"/><ellipse cx="74.08" cy="227.67" rx="4.25" ry="3.27" fill="#6a6a6a" opacity="0.4" filter="url(#bl1)"/>
<circle cx="72.3" cy="227.8" r="1.2" fill="#d0d0d0" opacity="0.6" filter="url(#bl05)"/>
<circle cx="74.3" cy="228.1" r="1.2" fill="#2a2a2a" opacity="0.6" filter="url(#bl05)"/>
<circle cx="74.2" cy="227.9" r="1.3" fill="#3a3a3a" opacity="0.6" filter="url(#bl05)"/>
<circle cx="74.2" cy="230.1" r="0.9" fill="#999" opacity="0.6" filter="url(#bl05)"/>
<circle cx="77.6" cy="225.4" r="1.2" fill="#3a3a3a" opacity="0.6" filter="url(#bl05)"/>
<circle cx="74.7" cy="229.4" r="0.7" fill="#2a2a2a" opacity="0.6" filter="url(#bl05)"/>
</g>
<g transform="rotate(12 42.7 241.2)"><ellipse cx="42.400000000000006" cy="241.6" rx="10.3" ry="12.8" fill="#1c1c1c" filter="url(#bl05)"/><ellipse cx="41.75" cy="243.00" rx="7.60" ry="8.64" fill="#4a4a4a" filter="url(#bl1)"/><ellipse cx="44.03" cy="237.96" rx="7.41" ry="6.96" fill="#f4f4f4" filter="url(#bl1)"/><ellipse cx="42.23" cy="241.44" rx="4.75" ry="4.56" fill="#6a6a6a" opacity="0.4" filter="url(#bl1)"/>
<circle cx="47.0" cy="236.3" r="1.2" fill="#2a2a2a" opacity="0.6" filter="url(#bl05)"/>
<circle cx="40.5" cy="242.2" r="1.1" fill="#999" opacity="0.6" filter="url(#bl05)"/>
<circle cx="46.7" cy="240.1" r="1.3" fill="#999" opacity="0.6" filter="url(#bl05)"/>
<circle cx="39.2" cy="239.7" r="0.7" fill="#2a2a2a" opacity="0.6" filter="url(#bl05)"/>
<circle cx="40.0" cy="246.2" r="1.1" fill="#999" opacity="0.6" filter="url(#bl05)"/>
<circle cx="46.1" cy="240.3" r="1.0" fill="#999" opacity="0.6" filter="url(#bl05)"/>
<circle cx="43.0" cy="240.2" r="1.2" fill="#3a3a3a" opacity="0.6" filter="url(#bl05)"/>
<circle cx="44.4" cy="245.8" r="1.3" fill="#d0d0d0" opacity="0.6" filter="url(#bl05)"/>
<circle cx="44.3" cy="237.6" r="1.3" fill="#d0d0d0" opacity="0.6" filter="url(#bl05)"/>
</g>
<g transform="rotate(0 25.1 246.6)"><ellipse cx="24.8" cy="247.0" rx="8.200000000000001" ry="9.600000000000001" fill="#1c1c1c" filter="url(#bl05)"/><ellipse cx="24.36" cy="247.92" rx="5.92" ry="6.34" fill="#4a4a4a" filter="url(#bl1)"/><ellipse cx="26.14" cy="244.22" rx="5.77" ry="5.10" fill="#f4f4f4" filter="url(#bl1)"/><ellipse cx="24.73" cy="246.78" rx="3.70" ry="3.34" fill="#6a6a6a" opacity="0.4" filter="url(#bl1)"/>
<circle cx="28.1" cy="247.1" r="1.0" fill="#3a3a3a" opacity="0.6" filter="url(#bl05)"/>
<circle cx="28.7" cy="244.8" r="0.6" fill="#2a2a2a" opacity="0.6" filter="url(#bl05)"/>
<circle cx="27.7" cy="250.5" r="0.8" fill="#2a2a2a" opacity="0.6" filter="url(#bl05)"/>
<circle cx="21.9" cy="249.7" r="0.8" fill="#2a2a2a" opacity="0.6" filter="url(#bl05)"/>
<circle cx="27.1" cy="249.6" r="1.0" fill="#2a2a2a" opacity="0.6" filter="url(#bl05)"/>
</g>
<g transform="rotate(-12 60.6 247.9)"><ellipse cx="60.300000000000004" cy="248.3" rx="9.100000000000001" ry="11.0" fill="#1c1c1c" filter="url(#bl05)"/><ellipse cx="59.77" cy="249.43" rx="6.64" ry="7.34" fill="#4a4a4a" filter="url(#bl1)"/><ellipse cx="61.76" cy="245.15" rx="6.47" ry="5.92" fill="#f4f4f4" filter="url(#bl1)"/><ellipse cx="60.19" cy="248.10" rx="4.15" ry="3.88" fill="#6a6a6a" opacity="0.4" filter="url(#bl1)"/>
<circle cx="62.8" cy="246.8" r="1.0" fill="#d0d0d0" opacity="0.6" filter="url(#bl05)"/>
<circle cx="64.1" cy="245.9" r="1.3" fill="#3a3a3a" opacity="0.6" filter="url(#bl05)"/>
<circle cx="59.0" cy="244.0" r="1.3" fill="#2a2a2a" opacity="0.6" filter="url(#bl05)"/>
<circle cx="64.5" cy="246.0" r="0.7" fill="#d0d0d0" opacity="0.6" filter="url(#bl05)"/>
<circle cx="56.8" cy="251.3" r="0.9" fill="#d0d0d0" opacity="0.6" filter="url(#bl05)"/>
<circle cx="57.6" cy="251.2" r="0.9" fill="#999" opacity="0.6" filter="url(#bl05)"/>
<circle cx="60.8" cy="249.2" r="1.0" fill="#2a2a2a" opacity="0.6" filter="url(#bl05)"/>
</g>
<g transform="rotate(-15 27.8 261.5)"><ellipse cx="27.5" cy="261.9" rx="10.3" ry="9.4" fill="#1c1c1c" filter="url(#bl05)"/><ellipse cx="26.85" cy="262.79" rx="7.60" ry="6.19" fill="#4a4a4a" filter="url(#bl1)"/><ellipse cx="29.13" cy="259.18" rx="7.41" ry="4.99" fill="#f4f4f4" filter="url(#bl1)"/><ellipse cx="27.32" cy="261.67" rx="4.75" ry="3.27" fill="#6a6a6a" opacity="0.4" filter="url(#bl1)"/>
<circle cx="32.0" cy="261.6" r="1.0" fill="#999" opacity="0.6" filter="url(#bl05)"/>
<circle cx="29.8" cy="264.9" r="1.3" fill="#999" opacity="0.6" filter="url(#bl05)"/>
<circle cx="28.0" cy="261.9" r="1.2" fill="#2a2a2a" opacity="0.6" filter="url(#bl05)"/>
<circle cx="32.4" cy="260.1" r="1.0" fill="#999" opacity="0.6" filter="url(#bl05)"/>
<circle cx="29.1" cy="258.1" r="0.9" fill="#d0d0d0" opacity="0.6" filter="url(#bl05)"/>
<circle cx="29.5" cy="260.4" r="1.1" fill="#d0d0d0" opacity="0.6" filter="url(#bl05)"/>
</g>
<g transform="rotate(12 59.4 269.5)"><ellipse cx="59.1" cy="269.9" rx="11.100000000000001" ry="8.4" fill="#1c1c1c" filter="url(#bl05)"/><ellipse cx="58.37" cy="270.64" rx="8.24" ry="5.47" fill="#4a4a4a" filter="url(#bl1)"/><ellipse cx="60.84" cy="267.45" rx="8.03" ry="4.41" fill="#f4f4f4" filter="url(#bl1)"/><ellipse cx="58.88" cy="269.65" rx="5.15" ry="2.89" fill="#6a6a6a" opacity="0.4" filter="url(#bl1)"/>
<circle cx="54.5" cy="266.5" r="1.3" fill="#2a2a2a" opacity="0.6" filter="url(#bl05)"/>
<circle cx="56.8" cy="269.2" r="0.7" fill="#d0d0d0" opacity="0.6" filter="url(#bl05)"/>
<circle cx="56.2" cy="271.3" r="0.8" fill="#d0d0d0" opacity="0.6" filter="url(#bl05)"/>
<circle cx="58.1" cy="271.4" r="1.3" fill="#2a2a2a" opacity="0.6" filter="url(#bl05)"/>
<circle cx="61.3" cy="267.0" r="1.1" fill="#3a3a3a" opacity="0.6" filter="url(#bl05)"/>
<circle cx="57.0" cy="268.3" r="1.1" fill="#999" opacity="0.6" filter="url(#bl05)"/>
</g>
<g transform="rotate(0 14.4 294.4)"><ellipse cx="14.1" cy="294.79999999999995" rx="6.3" ry="10.0" fill="#1c1c1c" filter="url(#bl05)"/><ellipse cx="13.85" cy="295.78" rx="4.40" ry="6.62" fill="#4a4a4a" filter="url(#bl1)"/><ellipse cx="15.17" cy="291.92" rx="4.29" ry="5.34" fill="#f4f4f4" filter="url(#bl1)"/><ellipse cx="14.12" cy="294.58" rx="2.75" ry="3.50" fill="#6a6a6a" opacity="0.4" filter="url(#bl1)"/>
<circle cx="12.2" cy="295.2" r="1.1" fill="#d0d0d0" opacity="0.6" filter="url(#bl05)"/>
<circle cx="12.9" cy="297.0" r="0.7" fill="#3a3a3a" opacity="0.6" filter="url(#bl05)"/>
<circle cx="15.7" cy="292.1" r="0.8" fill="#999" opacity="0.6" filter="url(#bl05)"/>
<circle cx="16.0" cy="290.5" r="0.8" fill="#3a3a3a" opacity="0.6" filter="url(#bl05)"/>
</g>
<g transform="rotate(15 44 290.1)"><ellipse cx="43.7" cy="290.5" rx="11.9" ry="7.6" fill="#1c1c1c" filter="url(#bl05)"/><ellipse cx="42.89" cy="291.12" rx="8.88" ry="4.90" fill="#4a4a4a" filter="url(#bl1)"/><ellipse cx="45.55" cy="288.26" rx="8.66" ry="3.94" fill="#f4f4f4" filter="url(#bl1)"/><ellipse cx="43.45" cy="290.24" rx="5.55" ry="2.58" fill="#6a6a6a" opacity="0.4" filter="url(#bl1)"/>
<circle cx="47.7" cy="290.6" r="0.8" fill="#d0d0d0" opacity="0.6" filter="url(#bl05)"/>
<circle cx="47.6" cy="287.6" r="1.0" fill="#d0d0d0" opacity="0.6" filter="url(#bl05)"/>
<circle cx="43.1" cy="290.2" r="0.9" fill="#d0d0d0" opacity="0.6" filter="url(#bl05)"/>
<circle cx="45.5" cy="288.8" r="0.6" fill="#999" opacity="0.6" filter="url(#bl05)"/>
<circle cx="43.0" cy="288.3" r="1.3" fill="#999" opacity="0.6" filter="url(#bl05)"/>
<circle cx="48.2" cy="293.1" r="1.0" fill="#999" opacity="0.6" filter="url(#bl05)"/>
</g>
<g transform="rotate(0 63.2 293.1)"><ellipse cx="62.900000000000006" cy="293.5" rx="8.1" ry="8.9" fill="#1c1c1c" filter="url(#bl05)"/><ellipse cx="62.47" cy="294.31" rx="5.84" ry="5.83" fill="#4a4a4a" filter="url(#bl1)"/><ellipse cx="64.22" cy="290.91" rx="5.69" ry="4.70" fill="#f4f4f4" filter="url(#bl1)"/><ellipse cx="62.84" cy="293.26" rx="3.65" ry="3.08" fill="#6a6a6a" opacity="0.4" filter="url(#bl1)"/>
<circle cx="66.7" cy="294.7" r="1.1" fill="#2a2a2a" opacity="0.6" filter="url(#bl05)"/>
<circle cx="65.7" cy="294.3" r="1.0" fill="#d0d0d0" opacity="0.6" filter="url(#bl05)"/>
<circle cx="66.0" cy="295.7" r="0.7" fill="#d0d0d0" opacity="0.6" filter="url(#bl05)"/>
<circle cx="61.3" cy="289.7" r="1.2" fill="#3a3a3a" opacity="0.6" filter="url(#bl05)"/>
</g>
<g transform="rotate(0 31.2 301)"><ellipse cx="30.9" cy="301.4" rx="7.8" ry="5.6" fill="#1c1c1c" filter="url(#bl05)"/><ellipse cx="30.50" cy="301.72" rx="5.60" ry="3.46" fill="#4a4a4a" filter="url(#bl1)"/><ellipse cx="32.18" cy="299.70" rx="5.46" ry="2.78" fill="#f4f4f4" filter="url(#bl1)"/><ellipse cx="30.85" cy="301.10" rx="3.50" ry="1.82" fill="#6a6a6a" opacity="0.4" filter="url(#bl1)"/>
<circle cx="34.0" cy="301.3" r="0.9" fill="#2a2a2a" opacity="0.6" filter="url(#bl05)"/>
<circle cx="28.5" cy="301.0" r="1.1" fill="#3a3a3a" opacity="0.6" filter="url(#bl05)"/>
</g>
<g transform="rotate(0 76.5 301.5)"><ellipse cx="76.2" cy="301.9" rx="8.5" ry="5.3999999999999995" fill="#1c1c1c" filter="url(#bl05)"/><ellipse cx="75.73" cy="302.19" rx="6.16" ry="3.31" fill="#4a4a4a" filter="url(#bl1)"/><ellipse cx="77.58" cy="300.26" rx="6.01" ry="2.67" fill="#f4f4f4" filter="url(#bl1)"/><ellipse cx="76.11" cy="301.59" rx="3.85" ry="1.75" fill="#6a6a6a" opacity="0.4" filter="url(#bl1)"/>
<circle cx="76.7" cy="301.1" r="0.8" fill="#2a2a2a" opacity="0.6" filter="url(#bl05)"/>
<circle cx="74.6" cy="303.0" r="1.2" fill="#999" opacity="0.6" filter="url(#bl05)"/>
</g>
</g>
<rect x="8.7" y="217" width="86.3" height="87.6" fill="none" stroke="#9c1a44" stroke-width="1.6"/>
<rect x="54" y="296.9" width="39" height="1.9" fill="#f4f4f4"/>
<g clip-path="url(#dr)">
<rect x="97" y="216" width="89" height="89" fill="url(#bgR)"/>
<ellipse cx="183" cy="256" rx="6" ry="9" fill="url(#glow)"/>
<ellipse cx="125" cy="218" rx="10" ry="3" fill="#c8c8c8" opacity="0.7" filter="url(#bl1)"/>
<g transform="rotate(0 145.3 238.9)"><ellipse cx="145.3" cy="238.9" rx="14.2" ry="14.2" fill="url(#gFW)" filter="url(#bl05)"/>
<circle cx="149.9" cy="240.8" r="1.3" fill="rgb(85,85,85)" opacity="0.85" filter="url(#bl05)"/>
<circle cx="150.3" cy="248.3" r="0.6" fill="rgb(94,94,94)" opacity="0.85" filter="url(#bl05)"/>
<circle cx="137.6" cy="230.8" r="0.8" fill="rgb(83,83,83)" opacity="0.85" filter="url(#bl05)"/>
<circle cx="139.2" cy="233.3" r="1.3" fill="rgb(97,97,97)" opacity="0.85" filter="url(#bl05)"/>
<circle cx="147.4" cy="238.9" r="0.6" fill="rgb(106,106,106)" opacity="0.85" filter="url(#bl05)"/>
<circle cx="143.7" cy="239.1" r="1.1" fill="rgb(183,183,183)" opacity="0.85" filter="url(#bl05)"/>
<circle cx="142.8" cy="244.5" r="1.0" fill="rgb(123,123,123)" opacity="0.85" filter="url(#bl05)"/>
<circle cx="143.5" cy="244.1" r="0.7" fill="rgb(118,118,118)" opacity="0.85" filter="url(#bl05)"/>
<circle cx="155.4" cy="239.1" r="0.6" fill="rgb(62,62,62)" opacity="0.85" filter="url(#bl05)"/>
<circle cx="136.1" cy="241.2" r="1.3" fill="rgb(224,224,224)" opacity="0.85" filter="url(#bl05)"/>
<circle cx="140.0" cy="233.7" r="1.3" fill="rgb(90,90,90)" opacity="0.85" filter="url(#bl05)"/>
<circle cx="140.6" cy="249.8" r="0.8" fill="rgb(143,143,143)" opacity="0.85" filter="url(#bl05)"/>
<circle cx="135.7" cy="236.7" r="0.8" fill="rgb(104,104,104)" opacity="0.85" filter="url(#bl05)"/>
<circle cx="146.3" cy="239.9" r="1.4" fill="rgb(100,100,100)" opacity="0.85" filter="url(#bl05)"/>
<circle cx="146.7" cy="233.6" r="1.4" fill="rgb(67,67,67)" opacity="0.85" filter="url(#bl05)"/>
<circle cx="144.0" cy="227.9" r="1.2" fill="rgb(177,177,177)" opacity="0.85" filter="url(#bl05)"/>
<circle cx="144.4" cy="230.3" r="1.2" fill="rgb(59,59,59)" opacity="0.85" filter="url(#bl05)"/>
<circle cx="140.2" cy="239.8" r="0.7" fill="rgb(130,130,130)" opacity="0.85" filter="url(#bl05)"/>
<circle cx="154.5" cy="245.5" r="0.9" fill="rgb(74,74,74)" opacity="0.85" filter="url(#bl05)"/>
<circle cx="146.1" cy="237.8" r="1.4" fill="rgb(82,82,82)" opacity="0.85" filter="url(#bl05)"/>
<circle cx="153.7" cy="236.3" r="1.3" fill="rgb(80,80,80)" opacity="0.85" filter="url(#bl05)"/>
<circle cx="135.3" cy="238.2" r="0.7" fill="rgb(120,120,120)" opacity="0.85" filter="url(#bl05)"/>
<circle cx="137.2" cy="236.1" r="0.7" fill="rgb(197,197,197)" opacity="0.85" filter="url(#bl05)"/>
<circle cx="154.7" cy="238.8" r="1.3" fill="rgb(61,61,61)" opacity="0.85" filter="url(#bl05)"/>
<circle cx="140.0" cy="243.1" r="1.1" fill="rgb(105,105,105)" opacity="0.85" filter="url(#bl05)"/>
<circle cx="151.9" cy="237.5" r="1.0" fill="rgb(51,51,51)" opacity="0.85" filter="url(#bl05)"/>
<circle cx="145.2" cy="234.8" r="1.1" fill="rgb(185,185,185)" opacity="0.85" filter="url(#bl05)"/>
<circle cx="154.0" cy="234.4" r="1.4" fill="rgb(49,49,49)" opacity="0.85" filter="url(#bl05)"/>
<circle cx="147.1" cy="241.3" r="1.2" fill="rgb(196,196,196)" opacity="0.85" filter="url(#bl05)"/>
<circle cx="153.8" cy="236.2" r="1.3" fill="rgb(76,76,76)" opacity="0.85" filter="url(#bl05)"/>
<circle cx="150.3" cy="245.4" r="1.1" fill="rgb(85,85,85)" opacity="0.85" filter="url(#bl05)"/>
<circle cx="147.1" cy="229.4" r="1.1" fill="rgb(57,57,57)" opacity="0.85" filter="url(#bl05)"/>
<circle cx="156.6" cy="237.7" r="1.0" fill="rgb(76,76,76)" opacity="0.85" filter="url(#bl05)"/>
<circle cx="142.1" cy="241.8" r="1.0" fill="rgb(123,123,123)" opacity="0.85" filter="url(#bl05)"/>
<circle cx="150.1" cy="233.4" r="1.1" fill="rgb(163,163,163)" opacity="0.85" filter="url(#bl05)"/>
<circle cx="134.5" cy="241.1" r="1.0" fill="rgb(236,236,236)" opacity="0.85" filter="url(#bl05)"/>
<circle cx="143.3" cy="227.9" r="1.4" fill="rgb(56,56,56)" opacity="0.85" filter="url(#bl05)"/>
<circle cx="156.4" cy="242.2" r="1.3" fill="rgb(65,65,65)" opacity="0.85" filter="url(#bl05)"/>
<circle cx="149.7" cy="241.0" r="0.8" fill="rgb(98,98,98)" opacity="0.85" filter="url(#bl05)"/>
<circle cx="145.1" cy="243.4" r="0.6" fill="rgb(216,216,216)" opacity="0.85" filter="url(#bl05)"/>
<circle cx="149.2" cy="237.2" r="1.0" fill="rgb(85,85,85)" opacity="0.85" filter="url(#bl05)"/>
<circle cx="144.9" cy="236.1" r="1.4" fill="rgb(97,97,97)" opacity="0.85" filter="url(#bl05)"/>
<circle cx="152.7" cy="240.6" r="0.6" fill="rgb(184,184,184)" opacity="0.85" filter="url(#bl05)"/>
<circle cx="141.5" cy="245.3" r="1.2" fill="rgb(142,142,142)" opacity="0.85" filter="url(#bl05)"/>
<circle cx="144.9" cy="230.9" r="0.7" fill="rgb(70,70,70)" opacity="0.85" filter="url(#bl05)"/>
<circle cx="143.8" cy="248.4" r="1.1" fill="rgb(130,130,130)" opacity="0.85" filter="url(#bl05)"/>
<circle cx="145.3" cy="247.2" r="1.3" fill="rgb(215,215,215)" opacity="0.85" filter="url(#bl05)"/>
<circle cx="145.6" cy="233.0" r="1.4" fill="rgb(183,183,183)" opacity="0.85" filter="url(#bl05)"/>
<circle cx="146.6" cy="236.0" r="1.1" fill="rgb(75,75,75)" opacity="0.85" filter="url(#bl05)"/>
<circle cx="151.4" cy="244.1" r="0.9" fill="rgb(110,110,110)" opacity="0.85" filter="url(#bl05)"/>
<ellipse cx="145.3" cy="238.9" rx="13.0" ry="13.0" fill="none" stroke="url(#rimFW)" stroke-width="2.6" filter="url(#bl05)"/>
</g>
<g transform="rotate(0 171.3 232)"><ellipse cx="171.3" cy="232" rx="12.2" ry="12" fill="url(#gFW)" filter="url(#bl05)"/>
<circle cx="170.1" cy="223.4" r="1.2" fill="rgb(174,174,174)" opacity="0.85" filter="url(#bl05)"/>
<circle cx="175.5" cy="240.7" r="0.7" fill="rgb(209,209,209)" opacity="0.85" filter="url(#bl05)"/>
<circle cx="162.0" cy="228.4" r="1.1" fill="rgb(223,223,223)" opacity="0.85" filter="url(#bl05)"/>
<circle cx="163.7" cy="229.3" r="1.3" fill="rgb(112,112,112)" opacity="0.85" filter="url(#bl05)"/>
<circle cx="170.5" cy="229.4" r="1.1" fill="rgb(78,78,78)" opacity="0.85" filter="url(#bl05)"/>
<circle cx="170.9" cy="226.4" r="0.6" fill="rgb(85,85,85)" opacity="0.85" filter="url(#bl05)"/>
<circle cx="175.7" cy="237.0" r="1.3" fill="rgb(107,107,107)" opacity="0.85" filter="url(#bl05)"/>
<circle cx="168.0" cy="236.2" r="1.3" fill="rgb(123,123,123)" opacity="0.85" filter="url(#bl05)"/>
<circle cx="177.6" cy="234.9" r="1.1" fill="rgb(97,97,97)" opacity="0.85" filter="url(#bl05)"/>
<circle cx="168.2" cy="225.3" r="1.2" fill="rgb(166,166,166)" opacity="0.85" filter="url(#bl05)"/>
<circle cx="163.8" cy="228.7" r="1.3" fill="rgb(96,96,96)" opacity="0.85" filter="url(#bl05)"/>
<circle cx="168.5" cy="230.2" r="1.1" fill="rgb(86,86,86)" opacity="0.85" filter="url(#bl05)"/>
<circle cx="173.1" cy="235.2" r="0.9" fill="rgb(105,105,105)" opacity="0.85" filter="url(#bl05)"/>
<circle cx="174.8" cy="226.7" r="0.9" fill="rgb(45,45,45)" opacity="0.85" filter="url(#bl05)"/>
<circle cx="164.1" cy="229.6" r="1.1" fill="rgb(211,211,211)" opacity="0.85" filter="url(#bl05)"/>
<circle cx="168.7" cy="222.7" r="1.1" fill="rgb(170,170,170)" opacity="0.85" filter="url(#bl05)"/>
<circle cx="171.3" cy="231.7" r="0.8" fill="rgb(183,183,183)" opacity="0.85" filter="url(#bl05)"/>
<circle cx="168.5" cy="229.2" r="1.3" fill="rgb(183,183,183)" opacity="0.85" filter="url(#bl05)"/>
<circle cx="180.4" cy="227.5" r="1.5" fill="rgb(44,44,44)" opacity="0.85" filter="url(#bl05)"/>
<circle cx="173.8" cy="230.0" r="0.6" fill="rgb(74,74,74)" opacity="0.85" filter="url(#bl05)"/>
<circle cx="168.5" cy="235.3" r="0.6" fill="rgb(116,116,116)" opacity="0.85" filter="url(#bl05)"/>
<circle cx="168.4" cy="236.5" r="0.7" fill="rgb(113,113,113)" opacity="0.85" filter="url(#bl05)"/>
<circle cx="176.2" cy="226.1" r="1.3" fill="rgb(48,48,48)" opacity="0.85" filter="url(#bl05)"/>
<circle cx="166.2" cy="239.6" r="1.0" fill="rgb(125,125,125)" opacity="0.85" filter="url(#bl05)"/>
<circle cx="171.6" cy="225.3" r="1.0" fill="rgb(58,58,58)" opacity="0.85" filter="url(#bl05)"/>
<circle cx="176.1" cy="225.1" r="1.2" fill="rgb(53,53,53)" opacity="0.85" filter="url(#bl05)"/>
<circle cx="165.2" cy="230.6" r="0.6" fill="rgb(210,210,210)" opacity="0.85" filter="url(#bl05)"/>
<circle cx="163.2" cy="234.2" r="1.4" fill="rgb(143,143,143)" opacity="0.85" filter="url(#bl05)"/>
<circle cx="170.2" cy="226.4" r="0.9" fill="rgb(81,81,81)" opacity="0.85" filter="url(#bl05)"/>
<circle cx="162.9" cy="237.9" r="0.9" fill="rgb(154,154,154)" opacity="0.85" filter="url(#bl05)"/>
<circle cx="175.7" cy="226.4" r="0.8" fill="rgb(71,71,71)" opacity="0.85" filter="url(#bl05)"/>
<circle cx="168.3" cy="234.0" r="1.1" fill="rgb(126,126,126)" opacity="0.85" filter="url(#bl05)"/>
<circle cx="167.7" cy="233.3" r="0.9" fill="rgb(116,116,116)" opacity="0.85" filter="url(#bl05)"/>
<circle cx="179.7" cy="233.7" r="1.0" fill="rgb(75,75,75)" opacity="0.85" filter="url(#bl05)"/>
<circle cx="181.4" cy="233.7" r="1.0" fill="rgb(75,75,75)" opacity="0.85" filter="url(#bl05)"/>
<circle cx="173.3" cy="237.0" r="0.7" fill="rgb(111,111,111)" opacity="0.85" filter="url(#bl05)"/>
<ellipse cx="171.3" cy="232" rx="11.0" ry="10.8" fill="none" stroke="url(#rimFW)" stroke-width="2.6" filter="url(#bl05)"/>
</g>
<g transform="rotate(36 114.3 254)"><ellipse cx="114.3" cy="254" rx="7.4" ry="17.5" fill="url(#gFW)" filter="url(#bl05)"/>
<circle cx="119.3" cy="258.0" r="1.4" fill="rgb(56,56,56)" opacity="0.85" filter="url(#bl05)"/>
<circle cx="115.8" cy="239.7" r="0.8" fill="rgb(61,61,61)" opacity="0.85" filter="url(#bl05)"/>
<circle cx="116.2" cy="243.5" r="0.7" fill="rgb(65,65,65)" opacity="0.85" filter="url(#bl05)"/>
<circle cx="112.9" cy="255.4" r="0.6" fill="rgb(186,186,186)" opacity="0.85" filter="url(#bl05)"/>
<circle cx="116.2" cy="256.8" r="0.8" fill="rgb(91,91,91)" opacity="0.85" filter="url(#bl05)"/>
<circle cx="111.0" cy="253.5" r="1.0" fill="rgb(119,119,119)" opacity="0.85" filter="url(#bl05)"/>
<circle cx="111.3" cy="263.4" r="1.1" fill="rgb(142,142,142)" opacity="0.85" filter="url(#bl05)"/>
<circle cx="115.7" cy="252.8" r="1.0" fill="rgb(96,96,96)" opacity="0.85" filter="url(#bl05)"/>
<circle cx="109.9" cy="253.5" r="1.4" fill="rgb(226,226,226)" opacity="0.85" filter="url(#bl05)"/>
<circle cx="116.7" cy="265.2" r="1.4" fill="rgb(203,203,203)" opacity="0.85" filter="url(#bl05)"/>
<circle cx="112.8" cy="258.2" r="1.0" fill="rgb(116,116,116)" opacity="0.85" filter="url(#bl05)"/>
<circle cx="113.3" cy="246.4" r="1.3" fill="rgb(81,81,81)" opacity="0.85" filter="url(#bl05)"/>
<circle cx="118.7" cy="247.8" r="0.8" fill="rgb(72,72,72)" opacity="0.85" filter="url(#bl05)"/>
<circle cx="114.4" cy="240.6" r="1.2" fill="rgb(51,51,51)" opacity="0.85" filter="url(#bl05)"/>
<circle cx="116.5" cy="257.6" r="1.2" fill="rgb(173,173,173)" opacity="0.85" filter="url(#bl05)"/>
<circle cx="118.2" cy="256.8" r="1.5" fill="rgb(185,185,185)" opacity="0.85" filter="url(#bl05)"/>
<circle cx="116.7" cy="254.1" r="0.9" fill="rgb(87,87,87)" opacity="0.85" filter="url(#bl05)"/>
<circle cx="108.9" cy="258.1" r="0.6" fill="rgb(146,146,146)" opacity="0.85" filter="url(#bl05)"/>
<circle cx="117.1" cy="263.5" r="0.7" fill="rgb(221,221,221)" opacity="0.85" filter="url(#bl05)"/>
<circle cx="113.7" cy="259.7" r="1.1" fill="rgb(212,212,212)" opacity="0.85" filter="url(#bl05)"/>
<circle cx="117.0" cy="249.8" r="1.0" fill="rgb(180,180,180)" opacity="0.85" filter="url(#bl05)"/>
<circle cx="113.6" cy="252.5" r="1.4" fill="rgb(91,91,91)" opacity="0.85" filter="url(#bl05)"/>
<circle cx="119.2" cy="262.7" r="1.0" fill="rgb(104,104,104)" opacity="0.85" filter="url(#bl05)"/>
<circle cx="115.3" cy="267.3" r="1.0" fill="rgb(206,206,206)" opacity="0.85" filter="url(#bl05)"/>
<circle cx="111.8" cy="243.4" r="1.0" fill="rgb(79,79,79)" opacity="0.85" filter="url(#bl05)"/>
<circle cx="118.7" cy="262.7" r="0.9" fill="rgb(188,188,188)" opacity="0.85" filter="url(#bl05)"/>
<circle cx="114.6" cy="254.5" r="0.7" fill="rgb(85,85,85)" opacity="0.85" filter="url(#bl05)"/>
<circle cx="112.0" cy="262.0" r="1.2" fill="rgb(111,111,111)" opacity="0.85" filter="url(#bl05)"/>
<circle cx="110.7" cy="263.8" r="0.8" fill="rgb(135,135,135)" opacity="0.85" filter="url(#bl05)"/>
<circle cx="110.5" cy="266.1" r="1.0" fill="rgb(156,156,156)" opacity="0.85" filter="url(#bl05)"/>
<circle cx="114.3" cy="261.7" r="1.3" fill="rgb(230,230,230)" opacity="0.85" filter="url(#bl05)"/>
<circle cx="118.8" cy="243.4" r="1.2" fill="rgb(142,142,142)" opacity="0.85" filter="url(#bl05)"/>
<ellipse cx="114.3" cy="254" rx="6.2" ry="16.3" fill="none" stroke="url(#rimFW)" stroke-width="2.6" filter="url(#bl05)"/>
</g>
<g transform="rotate(0 148.8 284.2)"><ellipse cx="148.8" cy="284.2" rx="15.2" ry="13.2" fill="url(#gFW)" filter="url(#bl05)"/>
<circle cx="153.1" cy="279.2" r="1.5" fill="rgb(50,50,50)" opacity="0.85" filter="url(#bl05)"/>
<circle cx="137.6" cy="285.2" r="1.1" fill="rgb(130,130,130)" opacity="0.85" filter="url(#bl05)"/>
<circle cx="161.3" cy="286.6" r="0.7" fill="rgb(80,80,80)" opacity="0.85" filter="url(#bl05)"/>
<circle cx="147.7" cy="278.8" r="1.0" fill="rgb(163,163,163)" opacity="0.85" filter="url(#bl05)"/>
<circle cx="150.5" cy="288.4" r="0.9" fill="rgb(106,106,106)" opacity="0.85" filter="url(#bl05)"/>
<circle cx="148.3" cy="274.7" r="1.0" fill="rgb(80,80,80)" opacity="0.85" filter="url(#bl05)"/>
<circle cx="155.5" cy="280.4" r="1.3" fill="rgb(77,77,77)" opacity="0.85" filter="url(#bl05)"/>
<circle cx="144.8" cy="273.5" r="0.7" fill="rgb(166,166,166)" opacity="0.85" filter="url(#bl05)"/>
<circle cx="145.7" cy="290.8" r="0.8" fill="rgb(245,245,245)" opacity="0.85" filter="url(#bl05)"/>
<circle cx="154.8" cy="282.7" r="1.4" fill="rgb(75,75,75)" opacity="0.85" filter="url(#bl05)"/>
<circle cx="151.0" cy="279.1" r="1.1" fill="rgb(55,55,55)" opacity="0.85" filter="url(#bl05)"/>
<circle cx="158.7" cy="285.0" r="0.7" fill="rgb(68,68,68)" opacity="0.85" filter="url(#bl05)"/>
<circle cx="153.6" cy="285.6" r="1.5" fill="rgb(91,91,91)" opacity="0.85" filter="url(#bl05)"/>
<circle cx="142.8" cy="290.2" r="0.6" fill="rgb(143,143,143)" opacity="0.85" filter="url(#bl05)"/>
<circle cx="142.6" cy="286.6" r="1.3" fill="rgb(116,116,116)" opacity="0.85" filter="url(#bl05)"/>
<circle cx="143.2" cy="285.8" r="1.0" fill="rgb(227,227,227)" opacity="0.85" filter="url(#bl05)"/>
<circle cx="148.7" cy="285.9" r="1.5" fill="rgb(119,119,119)" opacity="0.85" filter="url(#bl05)"/>
<circle cx="154.4" cy="292.5" r="0.7" fill="rgb(195,195,195)" opacity="0.85" filter="url(#bl05)"/>
<circle cx="149.4" cy="274.3" r="0.9" fill="rgb(171,171,171)" opacity="0.85" filter="url(#bl05)"/>
<circle cx="149.5" cy="284.9" r="1.2" fill="rgb(114,114,114)" opacity="0.85" filter="url(#bl05)"/>
<circle cx="158.6" cy="277.7" r="1.3" fill="rgb(45,45,45)" opacity="0.85" filter="url(#bl05)"/>
<circle cx="157.0" cy="275.6" r="1.1" fill="rgb(140,140,140)" opacity="0.85" filter="url(#bl05)"/>
<circle cx="151.1" cy="287.8" r="1.3" fill="rgb(185,185,185)" opacity="0.85" filter="url(#bl05)"/>
<circle cx="157.8" cy="290.0" r="1.3" fill="rgb(90,90,90)" opacity="0.85" filter="url(#bl05)"/>
<circle cx="136.6" cy="287.5" r="0.7" fill="rgb(136,136,136)" opacity="0.85" filter="url(#bl05)"/>
<circle cx="157.1" cy="285.9" r="1.4" fill="rgb(64,64,64)" opacity="0.85" filter="url(#bl05)"/>
<circle cx="147.6" cy="283.3" r="0.7" fill="rgb(199,199,199)" opacity="0.85" filter="url(#bl05)"/>
<circle cx="156.8" cy="291.2" r="1.2" fill="rgb(110,110,110)" opacity="0.85" filter="url(#bl05)"/>
<circle cx="142.7" cy="289.7" r="0.9" fill="rgb(227,227,227)" opacity="0.85" filter="url(#bl05)"/>
<circle cx="143.1" cy="291.5" r="0.8" fill="rgb(141,141,141)" opacity="0.85" filter="url(#bl05)"/>
<circle cx="160.8" cy="280.8" r="1.1" fill="rgb(45,45,45)" opacity="0.85" filter="url(#bl05)"/>
<circle cx="156.4" cy="285.7" r="0.7" fill="rgb(59,59,59)" opacity="0.85" filter="url(#bl05)"/>
<circle cx="149.4" cy="288.5" r="0.7" fill="rgb(99,99,99)" opacity="0.85" filter="url(#bl05)"/>
<circle cx="146.3" cy="281.8" r="1.5" fill="rgb(76,76,76)" opacity="0.85" filter="url(#bl05)"/>
<circle cx="146.0" cy="277.8" r="0.9" fill="rgb(83,83,83)" opacity="0.85" filter="url(#bl05)"/>
<circle cx="144.5" cy="282.7" r="0.7" fill="rgb(83,83,83)" opacity="0.85" filter="url(#bl05)"/>
<circle cx="152.7" cy="281.9" r="1.2" fill="rgb(69,69,69)" opacity="0.85" filter="url(#bl05)"/>
<circle cx="150.2" cy="285.7" r="0.8" fill="rgb(183,183,183)" opacity="0.85" filter="url(#bl05)"/>
<circle cx="154.1" cy="274.8" r="0.7" fill="rgb(48,48,48)" opacity="0.85" filter="url(#bl05)"/>
<circle cx="151.3" cy="293.7" r="1.5" fill="rgb(123,123,123)" opacity="0.85" filter="url(#bl05)"/>
<circle cx="148.1" cy="287.5" r="0.9" fill="rgb(115,115,115)" opacity="0.85" filter="url(#bl05)"/>
<circle cx="157.7" cy="281.0" r="0.9" fill="rgb(79,79,79)" opacity="0.85" filter="url(#bl05)"/>
<circle cx="154.1" cy="289.9" r="1.5" fill="rgb(104,104,104)" opacity="0.85" filter="url(#bl05)"/>
<circle cx="138.2" cy="285.1" r="1.3" fill="rgb(128,128,128)" opacity="0.85" filter="url(#bl05)"/>
<circle cx="137.1" cy="282.2" r="1.0" fill="rgb(118,118,118)" opacity="0.85" filter="url(#bl05)"/>
<circle cx="141.0" cy="282.5" r="0.9" fill="rgb(209,209,209)" opacity="0.85" filter="url(#bl05)"/>
<circle cx="149.1" cy="278.7" r="0.8" fill="rgb(190,190,190)" opacity="0.85" filter="url(#bl05)"/>
<circle cx="160.3" cy="281.9" r="1.4" fill="rgb(62,62,62)" opacity="0.85" filter="url(#bl05)"/>
<circle cx="155.4" cy="290.3" r="1.4" fill="rgb(99,99,99)" opacity="0.85" filter="url(#bl05)"/>
<circle cx="149.6" cy="284.8" r="1.5" fill="rgb(82,82,82)" opacity="0.85" filter="url(#bl05)"/>
<ellipse cx="148.8" cy="284.2" rx="14.0" ry="12.0" fill="none" stroke="url(#rimFW)" stroke-width="2.6" filter="url(#bl05)"/>
</g>
<g transform="rotate(0 102 287)"><ellipse cx="102" cy="287" rx="10" ry="14" fill="url(#gFW)" filter="url(#bl05)"/>
<circle cx="99.7" cy="279.5" r="1.1" fill="rgb(98,98,98)" opacity="0.85" filter="url(#bl05)"/>
<circle cx="99.5" cy="288.4" r="1.0" fill="rgb(198,198,198)" opacity="0.85" filter="url(#bl05)"/>
<circle cx="95.9" cy="283.4" r="1.1" fill="rgb(204,204,204)" opacity="0.85" filter="url(#bl05)"/>
<circle cx="110.2" cy="285.6" r="0.9" fill="rgb(169,169,169)" opacity="0.85" filter="url(#bl05)"/>
<circle cx="105.9" cy="286.2" r="0.8" fill="rgb(71,71,71)" opacity="0.85" filter="url(#bl05)"/>
<circle cx="109.1" cy="286.7" r="1.5" fill="rgb(72,72,72)" opacity="0.85" filter="url(#bl05)"/>
<circle cx="96.7" cy="289.3" r="0.8" fill="rgb(235,235,235)" opacity="0.85" filter="url(#bl05)"/>
<circle cx="97.8" cy="281.4" r="1.0" fill="rgb(178,178,178)" opacity="0.85" filter="url(#bl05)"/>
<circle cx="95.9" cy="284.2" r="1.4" fill="rgb(130,130,130)" opacity="0.85" filter="url(#bl05)"/>
<circle cx="95.6" cy="294.9" r="0.6" fill="rgb(145,145,145)" opacity="0.85" filter="url(#bl05)"/>
<circle cx="99.6" cy="287.1" r="1.2" fill="rgb(220,220,220)" opacity="0.85" filter="url(#bl05)"/>
<circle cx="99.3" cy="291.5" r="1.0" fill="rgb(214,214,214)" opacity="0.85" filter="url(#bl05)"/>
<circle cx="107.7" cy="281.7" r="0.7" fill="rgb(51,51,51)" opacity="0.85" filter="url(#bl05)"/>
<circle cx="102.9" cy="293.5" r="1.4" fill="rgb(191,191,191)" opacity="0.85" filter="url(#bl05)"/>
<circle cx="103.3" cy="294.1" r="1.1" fill="rgb(129,129,129)" opacity="0.85" filter="url(#bl05)"/>
<circle cx="107.2" cy="283.1" r="1.2" fill="rgb(155,155,155)" opacity="0.85" filter="url(#bl05)"/>
<circle cx="103.1" cy="282.5" r="0.7" fill="rgb(69,69,69)" opacity="0.85" filter="url(#bl05)"/>
<circle cx="105.5" cy="282.4" r="0.9" fill="rgb(80,80,80)" opacity="0.85" filter="url(#bl05)"/>
<circle cx="99.7" cy="285.9" r="0.7" fill="rgb(97,97,97)" opacity="0.85" filter="url(#bl05)"/>
<circle cx="106.5" cy="288.1" r="1.5" fill="rgb(79,79,79)" opacity="0.85" filter="url(#bl05)"/>
<circle cx="99.4" cy="287.6" r="1.0" fill="rgb(107,107,107)" opacity="0.85" filter="url(#bl05)"/>
<circle cx="97.4" cy="280.2" r="1.2" fill="rgb(102,102,102)" opacity="0.85" filter="url(#bl05)"/>
<circle cx="101.8" cy="275.9" r="1.3" fill="rgb(64,64,64)" opacity="0.85" filter="url(#bl05)"/>
<circle cx="103.7" cy="286.9" r="1.4" fill="rgb(94,94,94)" opacity="0.85" filter="url(#bl05)"/>
<circle cx="100.6" cy="284.9" r="1.0" fill="rgb(187,187,187)" opacity="0.85" filter="url(#bl05)"/>
<circle cx="95.1" cy="281.4" r="1.5" fill="rgb(101,101,101)" opacity="0.85" filter="url(#bl05)"/>
<circle cx="107.5" cy="289.6" r="1.1" fill="rgb(180,180,180)" opacity="0.85" filter="url(#bl05)"/>
<circle cx="105.1" cy="289.6" r="1.4" fill="rgb(76,76,76)" opacity="0.85" filter="url(#bl05)"/>
<circle cx="98.4" cy="290.9" r="1.1" fill="rgb(115,115,115)" opacity="0.85" filter="url(#bl05)"/>
<circle cx="103.2" cy="292.6" r="1.1" fill="rgb(192,192,192)" opacity="0.85" filter="url(#bl05)"/>
<circle cx="98.6" cy="282.6" r="1.3" fill="rgb(210,210,210)" opacity="0.85" filter="url(#bl05)"/>
<circle cx="102.5" cy="289.1" r="1.2" fill="rgb(85,85,85)" opacity="0.85" filter="url(#bl05)"/>
<circle cx="94.2" cy="287.4" r="1.4" fill="rgb(116,116,116)" opacity="0.85" filter="url(#bl05)"/>
<circle cx="108.0" cy="294.8" r="0.9" fill="rgb(79,79,79)" opacity="0.85" filter="url(#bl05)"/>
<circle cx="102.1" cy="280.8" r="1.4" fill="rgb(80,80,80)" opacity="0.85" filter="url(#bl05)"/>
<ellipse cx="102" cy="287" rx="8.8" ry="12.8" fill="none" stroke="url(#rimFW)" stroke-width="2.6" filter="url(#bl05)"/>
</g>
<g transform="rotate(0 115 305)"><ellipse cx="115" cy="305" rx="10" ry="4" fill="url(#gFW)" filter="url(#bl05)"/>
<circle cx="115.8" cy="304.5" r="0.8" fill="rgb(91,91,91)" opacity="0.85" filter="url(#bl05)"/>
<circle cx="114.0" cy="306.8" r="0.9" fill="rgb(110,110,110)" opacity="0.85" filter="url(#bl05)"/>
<circle cx="117.7" cy="305.9" r="0.8" fill="rgb(106,106,106)" opacity="0.85" filter="url(#bl05)"/>
<circle cx="111.7" cy="305.1" r="0.8" fill="rgb(205,205,205)" opacity="0.85" filter="url(#bl05)"/>
<circle cx="112.6" cy="302.8" r="1.1" fill="rgb(183,183,183)" opacity="0.85" filter="url(#bl05)"/>
<circle cx="111.3" cy="303.5" r="1.1" fill="rgb(111,111,111)" opacity="0.85" filter="url(#bl05)"/>
<circle cx="114.3" cy="305.1" r="1.4" fill="rgb(108,108,108)" opacity="0.85" filter="url(#bl05)"/>
<circle cx="113.6" cy="303.7" r="0.9" fill="rgb(206,206,206)" opacity="0.85" filter="url(#bl05)"/>
<circle cx="120.6" cy="304.9" r="1.0" fill="rgb(86,86,86)" opacity="0.85" filter="url(#bl05)"/>
<circle cx="116.8" cy="304.2" r="1.1" fill="rgb(94,94,94)" opacity="0.85" filter="url(#bl05)"/>
<ellipse cx="115" cy="305" rx="8.8" ry="2.8" fill="none" stroke="url(#rimFW)" stroke-width="2.6" filter="url(#bl05)"/>
</g>
<g transform="rotate(0 160 305)"><ellipse cx="160" cy="305" rx="10" ry="3" fill="url(#gFW)" filter="url(#bl05)"/>
<circle cx="163.3" cy="303.7" r="1.4" fill="rgb(148,148,148)" opacity="0.85" filter="url(#bl05)"/>
<circle cx="159.1" cy="305.3" r="0.8" fill="rgb(89,89,89)" opacity="0.85" filter="url(#bl05)"/>
<circle cx="166.1" cy="306.2" r="1.1" fill="rgb(190,190,190)" opacity="0.85" filter="url(#bl05)"/>
<circle cx="158.2" cy="303.9" r="1.4" fill="rgb(67,67,67)" opacity="0.85" filter="url(#bl05)"/>
<circle cx="159.9" cy="303.8" r="1.1" fill="rgb(80,80,80)" opacity="0.85" filter="url(#bl05)"/>
<circle cx="160.5" cy="303.5" r="0.8" fill="rgb(68,68,68)" opacity="0.85" filter="url(#bl05)"/>
<circle cx="158.0" cy="303.3" r="0.9" fill="rgb(70,70,70)" opacity="0.85" filter="url(#bl05)"/>
<ellipse cx="160" cy="305" rx="8.8" ry="1.8" fill="none" stroke="url(#rimFW)" stroke-width="2.6" filter="url(#bl05)"/>
</g>
</g>
<rect x="97.9" y="217" width="86.8" height="87.6" fill="none" stroke="#24406a" stroke-width="1.3"/>
<rect x="141.6" y="296.5" width="40.8" height="2" fill="#f4f4f4"/>
<text x="33" y="318" font-size="8.5" fill="#b02040" stroke="#b02040" stroke-width="0.2">hGPIbα<tspan dy="-3.4" font-size="6.4">WT</tspan></text>
<text x="122.3" y="318" font-size="8.5" fill="#2f5f93" stroke="#2f5f93" stroke-width="0.2">hGPIbα<tspan dy="-3.4" font-size="6.4">FW</tspan></text>

<rect x="0.5" y="0.5" width="519" height="369" fill="none" stroke="#595959" stroke-width="1"/>
</svg>
</body></html>
